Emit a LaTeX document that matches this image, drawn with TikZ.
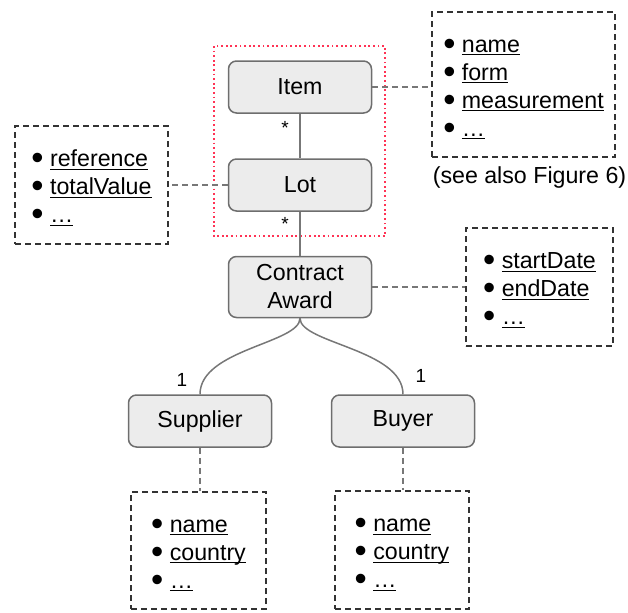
\documentclass[tikz,border=0pt]{standalone}
\usepackage{fontspec}
\setmainfont{Liberation Sans}
\usepackage{graphicx}
\usepackage{xcolor}
\usetikzlibrary{positioning}

\definecolor{boxfill}{HTML}{ECECEC}
\definecolor{boxline}{HTML}{6E6E6E}
\definecolor{linkline}{HTML}{777777}
\definecolor{attrline}{HTML}{333333}
\definecolor{groupred}{HTML}{FF3355}

\newsavebox{\attrtext}
\newcommand{\attr}[1]{\rule{0pt}{11.2pt}\raisebox{-1.7pt}{\scalebox{1.5}{\textbullet}}\ \sbox{\attrtext}{#1}%
    \rlap{\rule[-1.6pt]{\wd\attrtext}{0.6pt}}\usebox{\attrtext}}

\begin{document}
\begin{tikzpicture}[
    x=0.5pt, y=-0.5pt,
    font=\fontsize{11.6}{14}\selectfont,
    entity/.style={
        rectangle,
        rounded corners=4pt,
        draw=boxline,
        fill=boxfill,
        line width=0.75pt,
        minimum width=71.5pt,
        minimum height=26pt,
        align=center
    },
    attrbox/.style 2 args={
        draw=attrline,
        line width=0.8pt,
        dash pattern=on 3pt off 2pt,
        align=left,
        minimum width=#1,
        minimum height=#2
    },
    assoc/.style={draw=linkline, line width=0.75pt},
    link/.style={draw=linkline, line width=0.8pt, dash pattern=on 3pt off 2pt},
    group/.style={draw=groupred, line width=0.9pt, dash pattern=on 0.9pt off 1.4pt},
    mult/.style={font=\fontsize{9.5}{11}\selectfont, inner sep=1pt}
]
\useasboundingbox (0,0) rectangle (628,612);

% main entities
\node[entity] (item) at (300,87) {Item};
\node[entity] (lot) at (300,185) {Lot};
\node[entity, minimum height=30.5pt] (award) at (300,287) {Contract\\Award};
\node[entity] (supplier) at (200,421) {Supplier};
\node[entity] (buyer) at (403,421) {Buyer};

% item and lot belong together
\draw[group] (214,46) rectangle (385,236);

% attribute boxes
\node[attrbox={91.5pt}{72.5pt}] (itemattr) at (523.5,84.5)
    {\attr{name}\\\attr{form}\\\attr{measurement}\\\attr{\textellipsis}};
\node[below=1pt of itemattr, xshift=3pt] (seealso) {(see also Figure 6)};
\node[attrbox={76.5pt}{59pt}] (lotattr) at (91.5,185)
    {\attr{reference}\\\attr{totalValue}\\\attr{\textellipsis}};
\node[attrbox={73.5pt}{59pt}] (awardattr) at (539.5,287)
    {\attr{startDate}\\\attr{endDate}\\\attr{\textellipsis}};
\node[attrbox={67.5pt}{58.5pt}] (supplierattr) at (198.5,550.5)
    {\attr{name}\\\attr{country}\\\attr{\textellipsis}};
\node[attrbox={67pt}{59pt}] (buyerattr) at (402,550)
    {\attr{name}\\\attr{country}\\\attr{\textellipsis}};

% associations
\draw[assoc] (item) -- (lot);
\draw[assoc] (lot) -- (award);
\draw[assoc] (award.south) .. controls +(0,25) and +(0,-45) .. (supplier.north);
\draw[assoc] (award.south) .. controls +(0,25) and +(0,-45) .. (buyer.north);

\node[mult] (m1) at (285,128) {*};
\node[mult] (m2) at (285,224) {*};
\node[mult] (m3) at (182,380) {1};
\node[mult] (m4) at (421,376) {1};

% links to attributes
\draw[link] (item.east) -- (item.east -| itemattr.west);
\draw[link] (lot.west) -- (lot.west -| lotattr.east);
\draw[link] (award.east) -- (award.east -| awardattr.west);
\draw[link] (supplier.south) -- (supplier.south |- supplierattr.north);
\draw[link] (buyer.south) -- (buyer.south |- buyerattr.north);

\end{tikzpicture}
\end{document}
